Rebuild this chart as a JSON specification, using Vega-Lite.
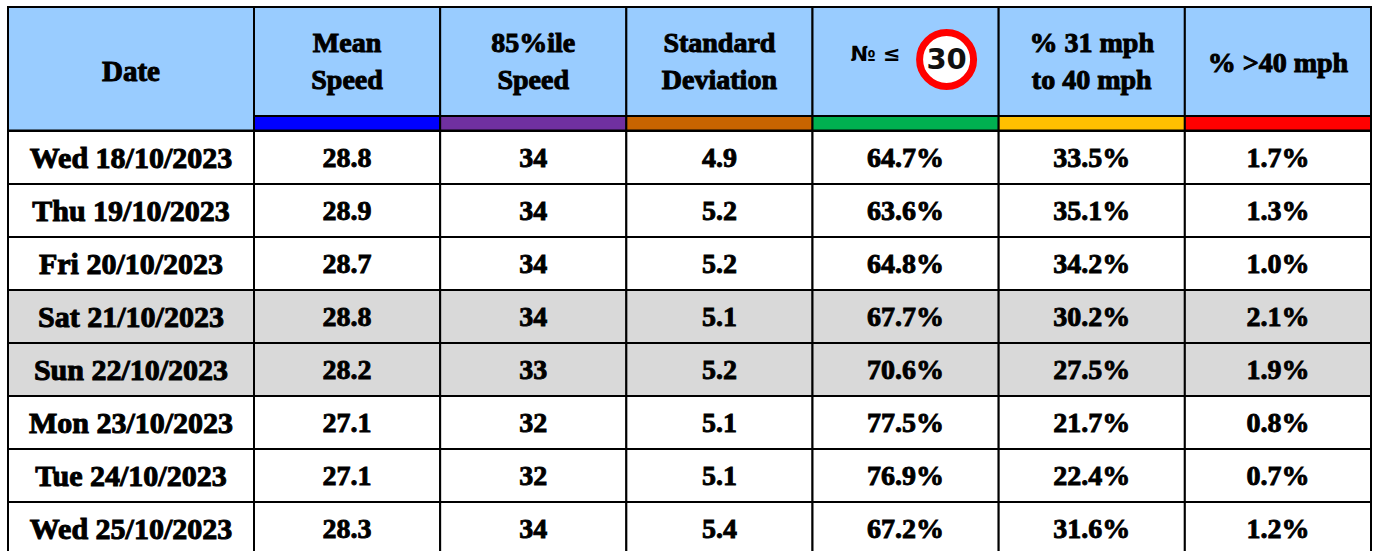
{
 "$schema":"https://vega.github.io/schema/vega-lite/v6.json",
 "padding":{"left":7,"top":6,"right":0,"bottom":0},
 "autosize":{"type":"pad"},
 "background":"white",
 "spacing":-3,
 "config":{"view":{"stroke":null},"concat":{"spacing":0},"text":{"font":"Liberation Serif"}},
 "datasets":{
  "rows":[
   {"date":"Wed 18/10/2023","day":"weekday","Mean Speed":"28.8","85%ile Speed":"34","Standard Deviation":"4.9","le30":"64.7%","mid":"33.5%","over":"1.7%"},
   {"date":"Thu 19/10/2023","day":"weekday","Mean Speed":"28.9","85%ile Speed":"34","Standard Deviation":"5.2","le30":"63.6%","mid":"35.1%","over":"1.3%"},
   {"date":"Fri 20/10/2023","day":"weekday","Mean Speed":"28.7","85%ile Speed":"34","Standard Deviation":"5.2","le30":"64.8%","mid":"34.2%","over":"1.0%"},
   {"date":"Sat 21/10/2023","day":"weekend","Mean Speed":"28.8","85%ile Speed":"34","Standard Deviation":"5.1","le30":"67.7%","mid":"30.2%","over":"2.1%"},
   {"date":"Sun 22/10/2023","day":"weekend","Mean Speed":"28.2","85%ile Speed":"33","Standard Deviation":"5.2","le30":"70.6%","mid":"27.5%","over":"1.9%"},
   {"date":"Mon 23/10/2023","day":"weekday","Mean Speed":"27.1","85%ile Speed":"32","Standard Deviation":"5.1","le30":"77.5%","mid":"21.7%","over":"0.8%"},
   {"date":"Tue 24/10/2023","day":"weekday","Mean Speed":"27.1","85%ile Speed":"32","Standard Deviation":"5.1","le30":"76.9%","mid":"22.4%","over":"0.7%"},
   {"date":"Wed 25/10/2023","day":"weekday","Mean Speed":"28.3","85%ile Speed":"34","Standard Deviation":"5.4","le30":"67.2%","mid":"31.6%","over":"1.2%"}
  ],
  "heads":[
   {"key":"Mean Speed","lines":["Mean","Speed"],"n":2,"band":"#0000FF"},
   {"key":"85%ile Speed","lines":["85%ile","Speed"],"n":2,"band":"#7030A0"},
   {"key":"Standard Deviation","lines":["Standard","Deviation"],"n":2,"band":"#C86400"},
   {"key":"le30","lines":[""],"n":0,"band":"#00B050"},
   {"key":"mid","lines":["% 31 mph","to 40 mph"],"n":2,"band":"#FFC000"},
   {"key":"over","lines":["% >40 mph"],"n":1,"band":"#FF0000"}
  ]
 },
 "hconcat":[
  {"bounds":"flush","spacing":0,"vconcat":[
   {"width":246,"height":123.5,"data":{"values":[{"t":"Date"}]},
    "encoding":{"x":{"field":"t","type":"nominal","axis":null},"y":{"field":"t","type":"nominal","axis":null}},
    "layer":[
     {"mark":{"type":"rect","fill":"#99CCFF","stroke":"black","strokeWidth":2}},
     {"mark":{"type":"text","fontSize":29,"fontWeight":"bold","stroke":"black","strokeWidth":1,"fill":"black","dy":3},"encoding":{"text":{"field":"t"}}}
    ]},
   {"width":246,"height":421,"data":{"name":"rows"},
    "encoding":{"x":{"datum":"d","type":"nominal","axis":null},
      "y":{"field":"date","type":"nominal","sort":null,"axis":null,"scale":{"range":[0,424],"paddingInner":0,"paddingOuter":0}}},
    "layer":[
     {"mark":{"type":"rect","stroke":"black","strokeWidth":2},"encoding":{"fill":{"field":"day","type":"nominal","legend":null,"scale":{"domain":["weekday","weekend"],"range":["#FFFFFF","#D9D9D9"]}}}},
     {"mark":{"type":"text","fontSize":30,"fontWeight":"bold","stroke":"black","strokeWidth":1,"fill":"black","dy":1},"encoding":{"text":{"field":"date"}}}
    ]}
  ]},
  {"bounds":"flush","spacing":0,"vconcat":[
   {"width":1118,"height":109,"data":{"name":"heads"},
    "encoding":{"x":{"field":"key","type":"nominal","sort":null,"axis":null,"scale":{"range":[-1,1116],"paddingInner":0,"paddingOuter":0}}},
    "layer":[
     {"mark":{"type":"rect","fill":"#99CCFF","stroke":"black","strokeWidth":2}},
     {"transform":[{"filter":"datum.n===2"}],"mark":{"type":"text","fontSize":28,"fontWeight":"bold","stroke":"black","strokeWidth":1,"fill":"black","lineHeight":37,"baseline":"middle","dy":-18},"encoding":{"text":{"field":"lines"}}},
     {"transform":[{"filter":"datum.n===1"}],"mark":{"type":"text","fontSize":28,"fontWeight":"bold","stroke":"black","strokeWidth":1,"fill":"black","baseline":"middle","dy":2},"encoding":{"text":{"field":"lines"}}},
     {"transform":[{"filter":"datum.key==='le30'"}],"mark":{"type":"text","text":"№ ≤","font":"DejaVu Sans","fontSize":21,"fontWeight":"bold","dx":-30,"dy":-7,"fill":"black"}},
     {"transform":[{"filter":"datum.key==='le30'"}],"mark":{"type":"point","filled":true,"fill":"white","opacity":1,"stroke":"#FF0000","strokeWidth":7,"size":2916,"shape":"circle","xOffset":41,"yOffset":-2}},
     {"transform":[{"filter":"datum.key==='le30'"}],"mark":{"type":"text","text":"30","font":"DejaVu Sans","fontSize":29,"fontWeight":"bold","dx":41,"dy":-2,"fill":"#111111"}}
    ]},
   {"width":1118,"height":14.5,"data":{"name":"heads"},
    "encoding":{"x":{"field":"key","type":"nominal","sort":null,"axis":null,"scale":{"range":[-1,1116],"paddingInner":0,"paddingOuter":0}}},
    "layer":[
     {"mark":{"type":"rect","stroke":"black","strokeWidth":2},"encoding":{"fill":{"field":"band","type":"nominal","legend":null,"scale":null}}}
    ]},
   {"width":1118,"height":421,"data":{"name":"rows"},
    "transform":[{"fold":["Mean Speed","85%ile Speed","Standard Deviation","le30","mid","over"],"as":["key","val"]}],
    "encoding":{
      "x":{"field":"key","type":"nominal","axis":null,"sort":["Mean Speed","85%ile Speed","Standard Deviation","le30","mid","over"],"scale":{"range":[-1,1116],"paddingInner":0,"paddingOuter":0}},
      "y":{"field":"date","type":"nominal","sort":null,"axis":null,"scale":{"range":[0,424],"paddingInner":0,"paddingOuter":0}}},
    "layer":[
     {"mark":{"type":"rect","stroke":"black","strokeWidth":2},"encoding":{"fill":{"field":"day","type":"nominal","legend":null,"scale":{"domain":["weekday","weekend"],"range":["#FFFFFF","#D9D9D9"]}}}},
     {"mark":{"type":"text","fontSize":28,"fontWeight":"bold","stroke":"black","strokeWidth":0.9,"fill":"black","dy":1},"encoding":{"text":{"field":"val"}}}
    ]}
  ]}
 ]
}
